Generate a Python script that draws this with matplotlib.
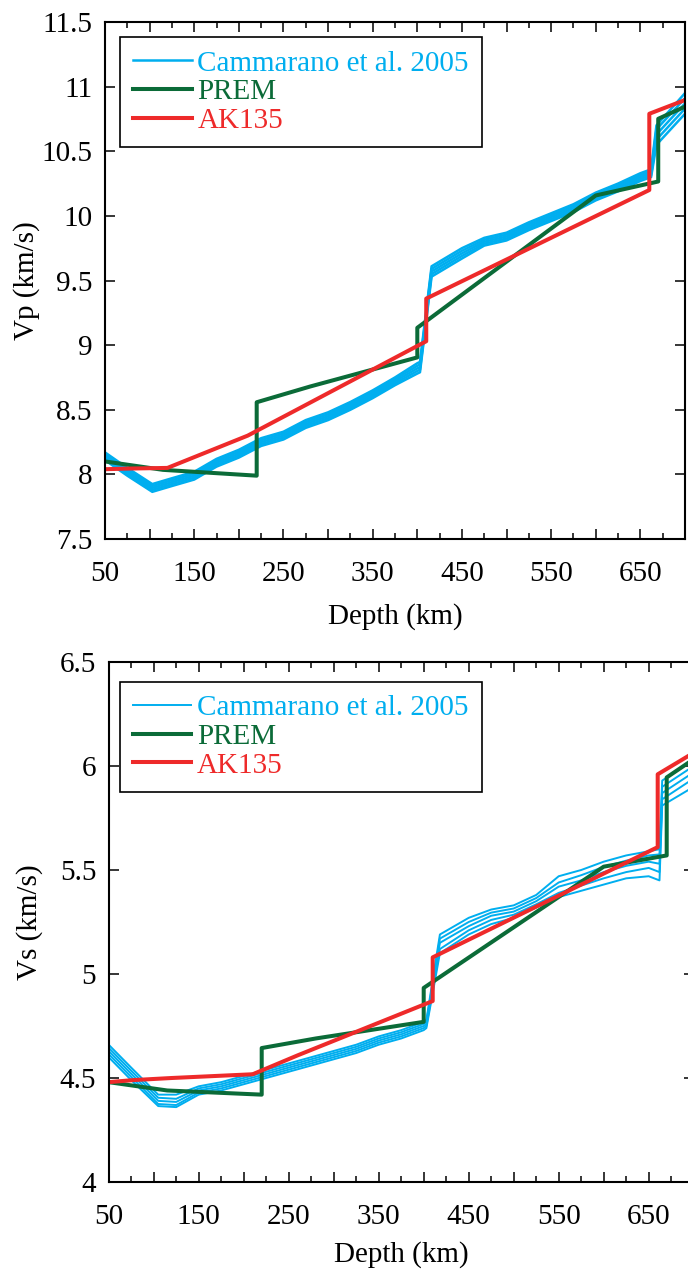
import matplotlib
matplotlib.use("Agg")
import matplotlib.pyplot as plt
from matplotlib.ticker import MultipleLocator, FormatStrFormatter

plt.rcParams["font.family"] = ["Liberation Serif", "DejaVu Serif"]
plt.rcParams["font.size"] = 21

BLUE = "#00aeef"
GREEN = "#0b6b38"
RED = "#ee2a2a"

# Cammarano et al. 2005 family of profiles
depth_cam_vp = [50, 75, 103, 125, 150, 175, 200, 225, 250, 275, 300, 325, 350, 375, 400,
                403, 416, 450, 475, 500, 525, 550, 575, 600, 625, 650, 662, 668, 700]
vp_cam_a = [8.17, 8.05, 7.925, 7.97, 8.02, 8.12, 8.19, 8.28, 8.33, 8.42, 8.48, 8.56, 8.65, 8.75, 8.86,
            8.87, 9.61, 9.75, 9.83, 9.87, 9.95, 10.02, 10.09, 10.18, 10.25, 10.33, 10.36, 10.70, 10.95]
vp_cam_b = [8.155, 8.035, 7.91, 7.955, 8.005, 8.105, 8.175, 8.265, 8.315, 8.405, 8.465, 8.545, 8.635, 8.735, 8.84,
            8.85, 9.59, 9.73, 9.815, 9.855, 9.935, 10.005, 10.075, 10.165, 10.235, 10.315, 10.345, 10.67, 10.91]
vp_cam_c = [8.14, 8.02, 7.895, 7.94, 7.99, 8.09, 8.16, 8.25, 8.30, 8.39, 8.45, 8.53, 8.62, 8.72, 8.82,
            8.83, 9.57, 9.71, 9.80, 9.84, 9.92, 9.99, 10.06, 10.15, 10.22, 10.30, 10.33, 10.63, 10.87]
vp_cam_d = [8.125, 8.005, 7.88, 7.925, 7.975, 8.075, 8.145, 8.235, 8.285, 8.375, 8.435, 8.515, 8.605, 8.705, 8.80,
            8.81, 9.55, 9.69, 9.785, 9.825, 9.905, 9.975, 10.045, 10.135, 10.205, 10.285, 10.315, 10.59, 10.83]
vp_cam_e = [8.11, 7.99, 7.865, 7.91, 7.96, 8.06, 8.13, 8.22, 8.27, 8.36, 8.42, 8.50, 8.59, 8.69, 8.78,
            8.79, 9.53, 9.67, 9.77, 9.81, 9.89, 9.96, 10.03, 10.12, 10.19, 10.27, 10.30, 10.55, 10.79]

depth_cam_vs = [50, 75, 105, 125, 150, 175, 200, 225, 250, 275, 300, 325, 350, 375, 400,
                403, 418, 450, 475, 500, 525, 550, 575, 600, 625, 650, 662, 665, 700]
vs_cam_a = [4.66, 4.55, 4.42, 4.42, 4.46, 4.48, 4.51, 4.54, 4.57, 4.60, 4.63, 4.66, 4.70, 4.73, 4.77,
            4.78, 5.19, 5.27, 5.31, 5.33, 5.38, 5.47, 5.50, 5.54, 5.57, 5.59, 5.60, 5.93, 6.03]
vs_cam_b = [4.645, 4.535, 4.405, 4.40, 4.45, 4.47, 4.50, 4.53, 4.56, 4.59, 4.62, 4.65, 4.69, 4.72, 4.76,
            4.77, 5.17, 5.25, 5.295, 5.315, 5.365, 5.44, 5.475, 5.515, 5.545, 5.57, 5.575, 5.90, 6.00]
vs_cam_c = [4.63, 4.52, 4.39, 4.385, 4.44, 4.46, 4.49, 4.52, 4.55, 4.58, 4.61, 4.64, 4.68, 4.71, 4.75,
            4.76, 5.15, 5.23, 5.28, 5.30, 5.35, 5.42, 5.45, 5.49, 5.52, 5.54, 5.53, 5.87, 5.97]
vs_cam_d = [4.615, 4.505, 4.375, 4.37, 4.43, 4.45, 4.48, 4.51, 4.54, 4.57, 4.60, 4.63, 4.67, 4.70, 4.74,
            4.75, 5.12, 5.21, 5.26, 5.285, 5.335, 5.39, 5.425, 5.46, 5.49, 5.51, 5.49, 5.84, 5.94]
vs_cam_e = [4.60, 4.49, 4.365, 4.36, 4.42, 4.44, 4.47, 4.50, 4.53, 4.56, 4.59, 4.62, 4.66, 4.69, 4.73,
            4.74, 5.10, 5.19, 5.24, 5.27, 5.32, 5.37, 5.40, 5.43, 5.46, 5.47, 5.45, 5.81, 5.90]

# PREM
depth_prem = [50, 115, 220, 220, 280, 400, 400, 600, 670, 670, 700]
vp_prem = [8.10, 8.035, 7.99, 8.558, 8.68, 8.905, 9.134, 10.158, 10.266, 10.751, 10.845]
vs_prem = [4.48, 4.44, 4.42, 4.644, 4.69, 4.770, 4.933, 5.516, 5.570, 5.945, 6.033]

# AK135
depth_ak = [50, 77.5, 120, 165, 210, 260, 310, 360, 410, 410, 460, 510, 560, 610, 660, 660, 710]
vp_ak = [8.04, 8.045, 8.05, 8.175, 8.30, 8.4823, 8.665, 8.8475, 9.03, 9.36, 9.528, 9.696, 9.864,
         10.032, 10.20, 10.79, 10.9229]
vs_ak = [4.48, 4.49, 4.50, 4.509, 4.518, 4.609, 4.696, 4.783, 4.87, 5.08, 5.186, 5.292, 5.398,
         5.504, 5.61, 5.96, 6.0897]


def draw_panel(ax, depth_cam, cam_lines, cam_lw, prem, ak, ylim, ylabel,
               legend_anchor, xlabel_y, ylabel_x):
    for i, v in enumerate(cam_lines):
        ax.plot(depth_cam, v, color=BLUE, lw=cam_lw,
                label="Cammarano et al. 2005" if i == 0 else None)
    ax.plot(depth_prem, prem, color=GREEN, lw=2.9, label="PREM")
    ax.plot(depth_ak, ak, color=RED, lw=2.9, label="AK135")
    ax.set_xlim(50, 700)
    ax.set_ylim(*ylim)
    ax.set_xticks(range(50, 701, 50))
    ax.set_xticklabels([str(d) if d % 100 == 50 else "" for d in range(50, 701, 50)])
    ax.xaxis.set_minor_locator(MultipleLocator(25))
    ax.yaxis.set_major_locator(MultipleLocator(0.5))
    ax.yaxis.set_major_formatter(FormatStrFormatter("%g"))
    ax.tick_params(which="both", direction="in", top=True, right=True, width=1.1)
    ax.tick_params(which="major", length=7)
    ax.tick_params(which="minor", length=4.3)
    ax.tick_params(axis="x", which="major", pad=16)
    ax.tick_params(axis="y", which="major", pad=9)
    for s in ax.spines.values():
        s.set_linewidth(1.5)
    ax.set_xlabel("Depth (km)")
    ax.xaxis.set_label_coords(0.5, xlabel_y)
    ax.set_ylabel(ylabel)
    ax.yaxis.set_label_coords(ylabel_x, 0.5)
    leg = ax.legend(loc="upper left", bbox_to_anchor=legend_anchor, borderaxespad=0,
                    fancybox=False, framealpha=1, edgecolor="black", labelcolor="linecolor",
                    handlelength=2.0, handletextpad=0.2, labelspacing=0.08, borderpad=0.45,
                    fontsize=21)
    leg.get_frame().set_linewidth(1.2)


fig = plt.figure(figsize=(6.88, 12.73), dpi=100)
ax1 = fig.add_axes([105 / 688, 1 - 539 / 1273, 580 / 688, 517 / 1273])
ax2 = fig.add_axes([108.7 / 688, 1 - 1182 / 1273, 585 / 688, 520 / 1273])

draw_panel(ax1, depth_cam_vp, [vp_cam_a, vp_cam_b, vp_cam_c, vp_cam_d, vp_cam_e], 1.8,
           vp_prem, vp_ak, (7.5, 11.5), "Vp (km/s)", (0.026, 0.971), -0.124, -0.112)
draw_panel(ax2, depth_cam_vs, [vs_cam_a, vs_cam_b, vs_cam_c, vs_cam_d, vs_cam_e], 1.4,
           vs_prem, vs_ak, (4, 6.5), "Vs (km/s)", (0.019, 0.9625), -0.114, -0.112)

fig.savefig("out.png", dpi=100)
